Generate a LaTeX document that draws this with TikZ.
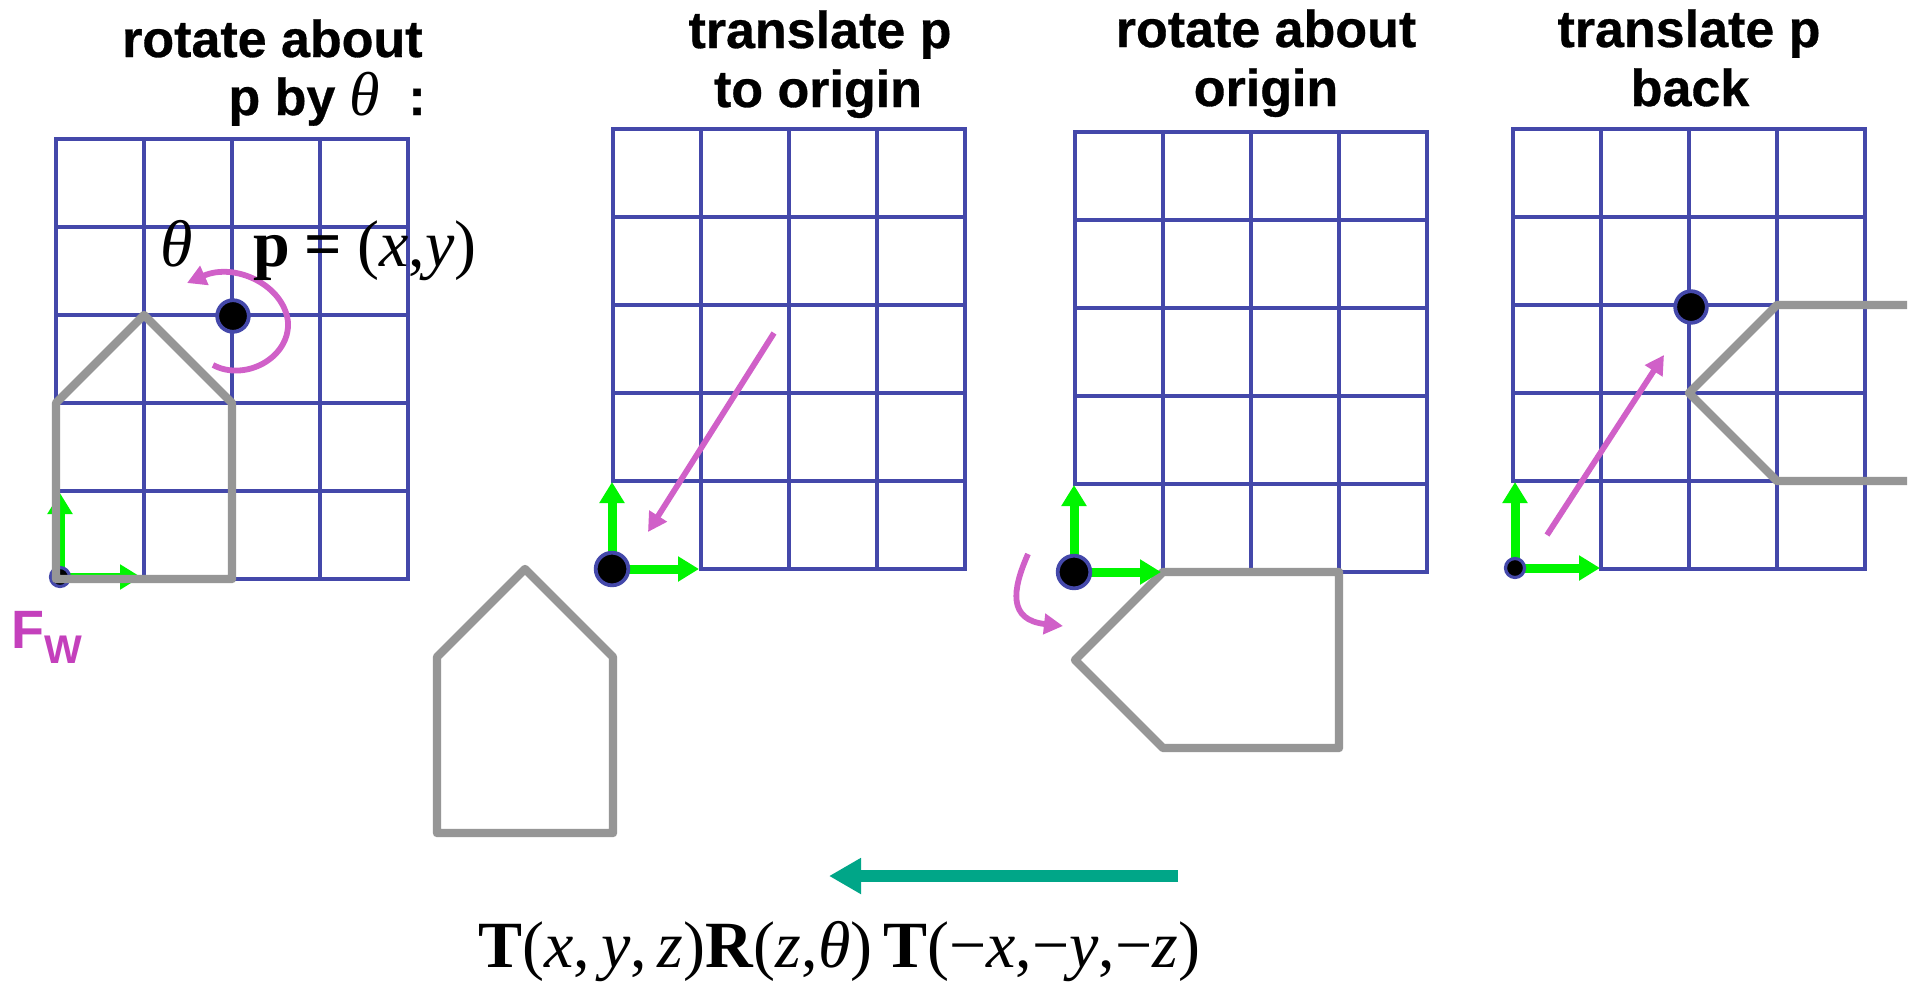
\documentclass[tikz,border=0pt]{standalone}
\usepackage{fontspec}
\setmainfont{Liberation Serif}
\newfontfamily\titlesans[FakeBold=0.6]{Liberation Sans Bold}
\newfontfamily\fwsans{Liberation Sans}
\usetikzlibrary{arrows.meta}
\definecolor{gridblue}{RGB}{68,72,170}
\definecolor{housegray}{RGB}{150,150,150}
\definecolor{axisgreen}{RGB}{0,245,0}
\definecolor{arrowmag}{RGB}{208,96,200}
\definecolor{fwmag}{RGB}{196,64,188}
\definecolor{tealarrow}{RGB}{0,166,136}
\tikzset{
  gridline/.style={draw=gridblue, line width=2.4pt, line cap=rect},
  house/.style={draw=housegray, line width=4.2pt, line join=round},
  axisarrow/.style={draw=axisgreen, line width=4.5pt, -{Triangle[length=10.5pt,width=12pt]}},
  movearrow/.style={draw=arrowmag, line width=2.9pt, -{Triangle[length=9.5pt,width=10pt]}},
  bigdot/.style={circle, fill=black, draw=gridblue, line width=1.9pt, minimum size=16.3pt, inner sep=0pt},
  pdot/.style={circle, fill=black, draw=gridblue, line width=1.9pt, minimum size=15.8pt, inner sep=0pt},
  smalldot/.style={circle, fill=black, draw=gridblue, line width=1.6pt, minimum size=9.5pt, inner sep=0pt},
  titletext/.style={inner sep=0pt, font=\titlesans\fontsize{26}{30}\selectfont},
  mathtext/.style={inner sep=0pt, font=\fontsize{33}{38}\selectfont},
}
\newcommand{\drawgrid}{%
  \foreach \i in {0,...,4} {\draw[gridline] (0,88*\i) -- (352,88*\i);}
  \draw[gridline] (88,440) -- (352,440);
  \foreach \j in {1,...,4} {\draw[gridline] (88*\j,0) -- (88*\j,440);}
  \draw[gridline] (0,0) -- (0,352);
}
\begin{document}
\begin{tikzpicture}[x=0.5pt, y=-0.5pt]
\fill[white] (0,0) rectangle (1918,981);
\useasboundingbox (0,0) rectangle (1918,981);

% ---------------- Panel 1 ----------------
\begin{scope}[shift={(56,139)}]
  \drawgrid
\end{scope}
\coordinate (o1) at (60,577);
\coordinate (o1up) at (60,493);
\coordinate (o1rt) at (141,577);
\draw[axisarrow] (o1) -- (o1up);
\draw[axisarrow] (o1) -- (o1rt);
\node[smalldot] (dot1) at (o1) {};
\draw[house] (56,579) -- (232,579) -- (232,403) -- (144,315) -- (56,403) -- cycle;
\coordinate (r1s) at (213,365);
\coordinate (r1m) at (288,322);
\coordinate (r1e) at (187,283);
\draw[movearrow] (r1s) .. controls (245,382) and (290,358) .. (r1m) .. controls (284,285) and (235,262) .. (r1e);
\node[pdot] (p1) at (233,316) {};
\node[mathtext, anchor=base west] (theta1) at (160,266) {\textit{θ}};
\node[mathtext, anchor=base west] (plabel) at (253,266) {\textbf{p}\hspace{7pt}\textbf{=}\hspace{8pt}(\textit{x},\textit{y})};
\node[titletext, anchor=base east] (t1a) at (423,57) {rotate about};
\node[titletext, anchor=base east] (t1b) at (426,115) {p by {\rmfamily\mdseries\itshape\fontsize{31}{36}\selectfont θ}\hspace{14pt}:};
\node[inner sep=0pt, anchor=base west, text=fwmag, font=\fwsans\bfseries\fontsize{27}{30}\selectfont] (fw) at (11,648) {F\raisebox{-7.5pt}{\fontsize{20}{22}\selectfont W}};

% ---------------- Panel 2 ----------------
\begin{scope}[shift={(613,129)}]
  \drawgrid
\end{scope}
\coordinate (o2) at (612,569);
\coordinate (o2up) at (612,482);
\coordinate (o2rt) at (699,569);
\draw[axisarrow] (o2) -- (o2up);
\draw[axisarrow] (o2) -- (o2rt);
\node[bigdot] (dot2) at (o2) {};
\coordinate (m2s) at (774,333);
\coordinate (m2e) at (648,532);
\draw[movearrow] (m2s) -- (m2e);
\draw[house] (437,833) -- (613,833) -- (613,657) -- (525,569) -- (437,657) -- cycle;
\node[titletext, anchor=base] (t2a) at (820,48) {translate p};
\node[titletext, anchor=base] (t2b) at (818,107) {to origin};

% ---------------- Panel 3 ----------------
\begin{scope}[shift={(1075,132)}]
  \drawgrid
\end{scope}
\draw[house] (1163,572) -- (1339,572) -- (1339,748) -- (1163,748) -- (1075,660) -- cycle;
\coordinate (o3) at (1074,572);
\coordinate (o3up) at (1074,485);
\coordinate (o3rt) at (1161,572);
\draw[axisarrow] (o3) -- (o3up);
\draw[axisarrow] (o3) -- (o3rt);
\node[bigdot] (dot3) at (o3) {};
\coordinate (r3s) at (1028,554);
\coordinate (r3e) at (1063,626);
\draw[movearrow] (r3s) .. controls (1012,590) and (1008,620) .. (r3e);
\node[titletext, anchor=base] (t3a) at (1266,47) {rotate about};
\node[titletext, anchor=base] (t3b) at (1266,106) {origin};

% ---------------- Panel 4 ----------------
\begin{scope}[shift={(1513,129)}]
  \drawgrid
\end{scope}
\draw[house] (1907,305) -- (1777,305) -- (1689,393) -- (1777,481) -- (1907,481);
\coordinate (o4) at (1515,568);
\coordinate (o4up) at (1515,482);
\coordinate (o4rt) at (1600,568);
\draw[axisarrow] (o4) -- (o4up);
\draw[axisarrow] (o4) -- (o4rt);
\node[smalldot] (dot4) at (o4) {};
\coordinate (m4s) at (1547,535);
\coordinate (m4e) at (1664,355);
\draw[movearrow] (m4s) -- (m4e);
\node[pdot] (p4) at (1691,307) {};
\node[titletext, anchor=base] (t4a) at (1689,47) {translate p};
\node[titletext, anchor=base] (t4b) at (1690,106) {back};

% ---------------- Bottom ----------------
\coordinate (ts) at (1178,876);
\coordinate (te) at (829,876);
\draw[draw=tealarrow, line width=6pt, -{Triangle[length=16pt,width=17pt]}] (ts) -- (te);
\node[mathtext, anchor=base west, font=\fontsize{33}{38}\selectfont] (formula) at (478,967)
  {\textbf{T}(\textit{x},\,\textit{y},\,\textit{z})\textbf{R}(\textit{z},\textit{θ})\,\textbf{T}(−\textit{x},−\textit{y},−\textit{z})};
\end{tikzpicture}
\end{document}
